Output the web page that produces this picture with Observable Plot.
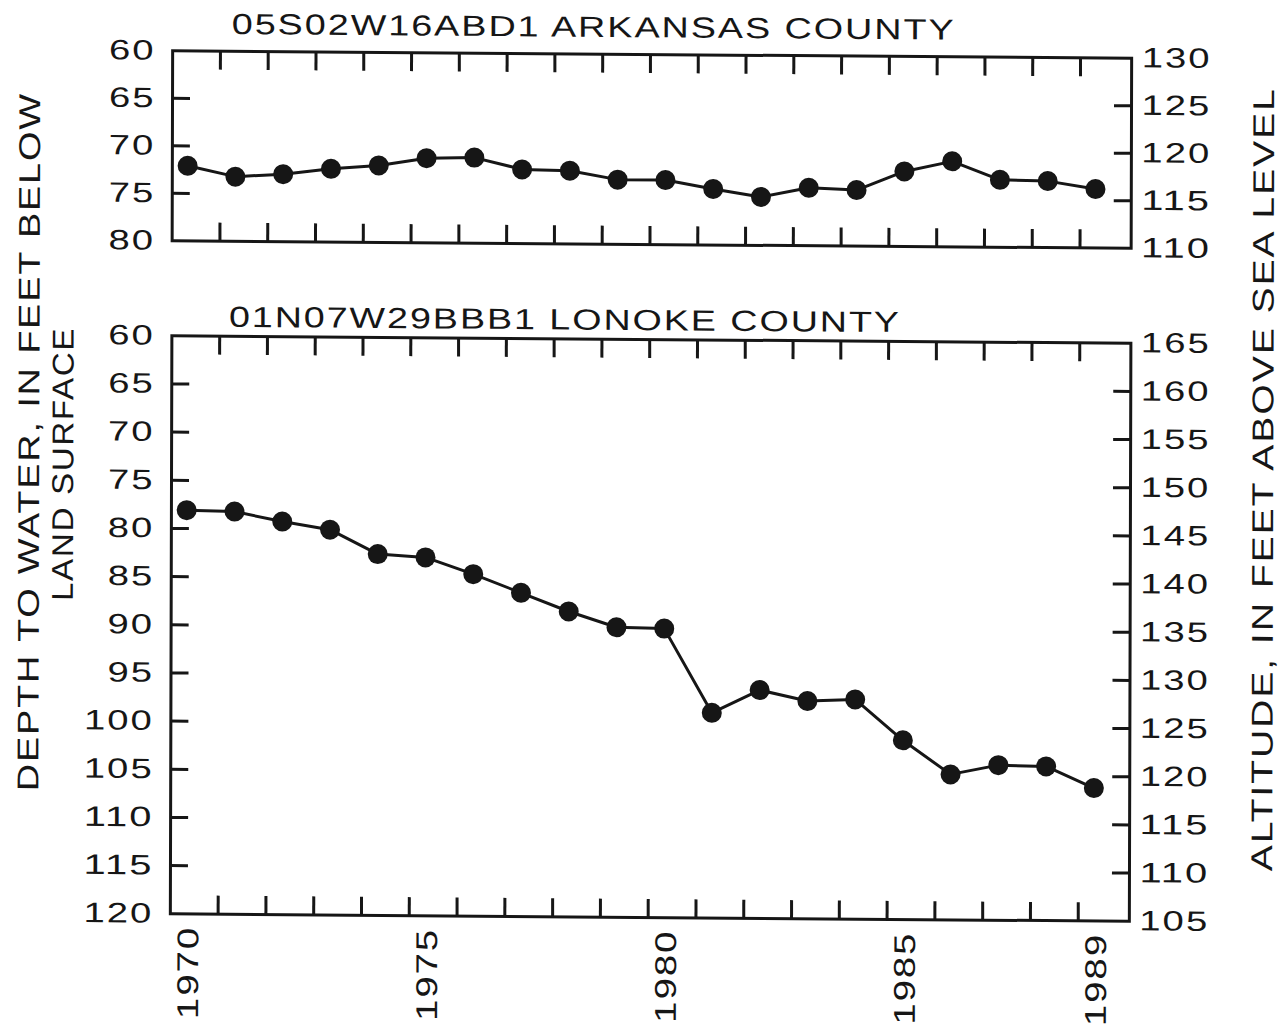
<!DOCTYPE html>
<html>
<head>
<meta charset="utf-8">
<script src="https://cdn.jsdelivr.net/npm/d3@7"></script>
<script src="https://cdn.jsdelivr.net/npm/@observablehq/plot@0.6"></script>
<style>
  html, body { margin: 0; padding: 0; background: #ffffff; }
  #page { position: relative; width: 1281px; height: 1028px; overflow: hidden; background: #ffffff; }
  #chart { position: absolute; left: 0; top: 0; width: 1281px; height: 1028px;
           transform-origin: 650px 485.5px; transform: matrix(1, 0.00783, -0.00267, 1, 0, 0); }
  #chart svg { position: absolute; left: 0; top: 0; }
</style>
</head>
<body>
<div id="page"><div id="chart"></div></div>
<script>
// ---------------- data ----------------
const years = [1970, 1971, 1972, 1973, 1974, 1975, 1976, 1977, 1978, 1979,
               1980, 1981, 1982, 1983, 1984, 1985, 1986, 1987, 1988, 1989];

// depth to water, feet below land surface
const arkansasDepth = [72.1, 73.2, 72.9, 72.3, 71.9, 71.1, 71.0, 72.2, 72.3, 73.2,
                       73.2, 74.1, 74.9, 73.9, 74.1, 72.1, 71.0, 72.9, 73.0, 73.8];
const lonokeDepth = [78.1, 78.2, 79.2, 80.0, 82.5, 82.8, 84.5, 86.4, 88.3, 89.9,
                     90.0, 98.7, 96.3, 97.4, 97.2, 101.4, 104.9, 103.9, 104.0, 106.2];

const arkansasTitle = "05S02W16ABD1 ARKANSAS COUNTY";
const lonokeTitle = "01N07W29BBB1 LONOKE COUNTY";

const arkansasDepthTicks = [60, 65, 70, 75, 80];
const arkansasAltitudeTicks = [130, 125, 120, 115, 110];
const arkansasLandSurface = 190;   // altitude of land surface, ft

const lonokeDepthTicks = [60, 65, 70, 75, 80, 85, 90, 95, 100, 105, 110, 115, 120];
const lonokeAltitudeTicks = [165, 160, 155, 150, 145, 140, 135, 130, 125, 120, 115, 110, 105];
const lonokeLandSurface = 225;

const yearLabels = ["1970", "1975", "1980", "1985", "1989"];
const yearTickOffset = 0.68;       // tick marks sit between sampled years
const xDomain = [1969.68, 1989.75];

const leftTitle1 = "DEPTH TO WATER, IN FEET BELOW";
const leftTitle2 = "LAND SURFACE";
const rightTitle = "ALTITUDE, IN FEET ABOVE SEA LEVEL";

// ---------------- layout ----------------
const W = 1281, H = 1028;
const ML = 171, MR = 151;
const ink = "#161616";
const font = "'Liberation Sans', Arial, Helvetica, sans-serif";

const tickYears = years.slice(0, -1).map(y => y + yearTickOffset);

function panel({depth, depthTicks, altTicks, land, top, bottom, title, titleDx, titleDy, extra = []}) {
  const data = years.map((year, i) => ({year, depth: depth[i]}));
  const innerDepth = depthTicks.slice(1, -1);
  const altDepth = altTicks.map(a => land - a);
  const innerAlt = altDepth.slice(1, -1);
  return Plot.plot({
    width: W,
    height: H,
    marginLeft: ML,
    marginRight: MR,
    marginTop: top,
    marginBottom: H - bottom,
    style: {background: "transparent", fontFamily: font, fontSize: "28px", color: ink, overflow: "visible", letterSpacing: "1.5px"},
    x: {domain: xDomain, label: null},
    y: {domain: [depthTicks[0], depthTicks[depthTicks.length - 1]], reverse: true, label: null},
    marks: [
      Plot.axisX({anchor: "top", ticks: tickYears, tickSize: -18, tickFormat: () => "", strokeWidth: 3, stroke: ink, label: null}),
      Plot.axisX({anchor: "bottom", ticks: tickYears, tickSize: -18, tickFormat: () => "", strokeWidth: 3, stroke: ink, label: null}),
      Plot.axisY({anchor: "left", ticks: innerDepth, tickSize: -18, tickFormat: () => "", strokeWidth: 3, stroke: ink, label: null}),
      Plot.axisY({anchor: "left", ticks: depthTicks, tickSize: 0, tickPadding: 17, label: null, fill: ink}),
      Plot.axisY({anchor: "right", ticks: innerAlt, tickSize: -18, tickFormat: () => "", strokeWidth: 3, stroke: ink, label: null}),
      Plot.axisY({anchor: "right", ticks: altDepth, tickSize: 0, tickPadding: 10, tickFormat: d => String(Math.round(land - d)), label: null, fill: ink}),
      Plot.frame({stroke: ink, strokeWidth: 3}),
      Plot.line(data, {x: "year", y: "depth", stroke: ink, strokeWidth: 3}),
      Plot.dot(data, {x: "year", y: "depth", r: 10, fill: ink, stroke: null}),
      Plot.text([title], {frameAnchor: "top-left", dx: titleDx, dy: titleDy, textAnchor: "middle", lineAnchor: "middle", fontSize: 29, fill: ink}),
      ...extra
    ]
  });
}

const topPlot = panel({
  depth: arkansasDepth, depthTicks: arkansasDepthTicks, altTicks: arkansasAltitudeTicks,
  land: arkansasLandSurface, top: 54, bottom: 244,
  title: arkansasTitle, titleDx: 592 - ML, titleDy: -26.5
});

const bottomPlot = panel({
  depth: lonokeDepth, depthTicks: lonokeDepthTicks, altTicks: lonokeAltitudeTicks,
  land: lonokeLandSurface, top: 339, bottom: 917,
  title: lonokeTitle, titleDx: 564 - ML, titleDy: -18.7,
  extra: [
    Plot.text(yearLabels, {x: d => +d, text: d => d, frameAnchor: "bottom", rotate: -90, textAnchor: "end", lineAnchor: "middle", dy: 12, dx: 3, fontSize: 30, fill: ink}),
    Plot.text([leftTitle1], {frameAnchor: "top-left", dx: 29 - ML, dy: 446 - 339, rotate: -90, textAnchor: "middle", lineAnchor: "middle", fontSize: 30, fill: ink}),
    Plot.text([leftTitle2], {frameAnchor: "top-left", dx: 63 - ML, dy: 468 - 339, rotate: -90, textAnchor: "middle", lineAnchor: "middle", fontSize: 30, fill: ink}),
    Plot.text([rightTitle], {frameAnchor: "top-right", dx: 1263 - (W - MR), dy: 474 - 339, rotate: -90, textAnchor: "middle", lineAnchor: "middle", fontSize: 30, fill: ink})
  ]
});

const chart = document.getElementById("chart");
chart.appendChild(bottomPlot);
chart.appendChild(topPlot);

// widen lettering like the original stencil type
const textLengths = new Map([
  [arkansasTitle, 724], [lonokeTitle, 672],
  [leftTitle1, 699], [leftTitle2, 274], [rightTitle, 784]
]);
chart.querySelectorAll("text").forEach(t => {
  const s = t.textContent;
  if (!s) return;
  let L = textLengths.get(s);
  if (L == null && /^\d+$/.test(s)) L = s.length * 23.3;
  if (L != null) {
    t.setAttribute("textLength", L);
    t.setAttribute("lengthAdjust", "spacingAndGlyphs");
  }
});
</script>
</body>
</html>
